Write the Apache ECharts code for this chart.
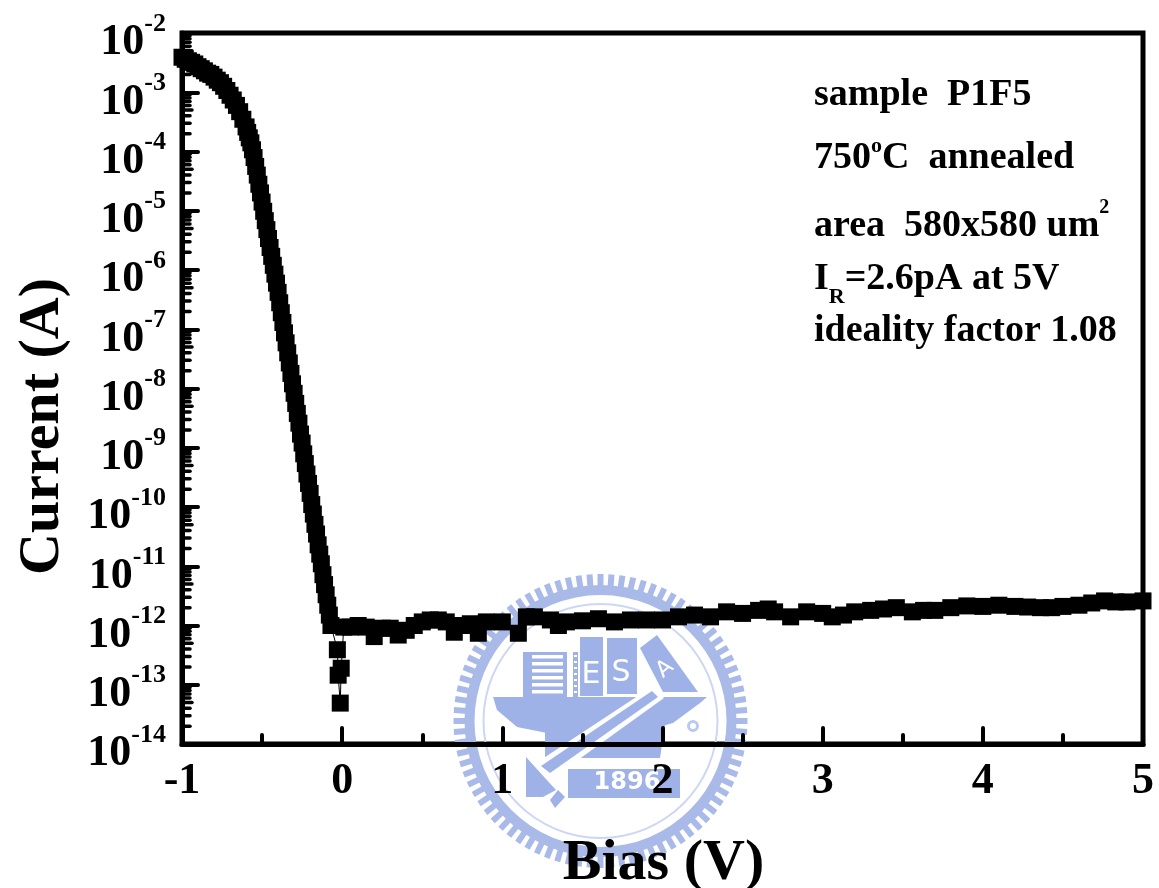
<!DOCTYPE html>
<html><head><meta charset="utf-8">
<style>html,body{margin:0;padding:0;background:#fff}#c{width:1159px;height:888px}</style>
<script src="https://cdn.jsdelivr.net/npm/echarts@6/dist/echarts.min.js"></script>
</head><body><div id="c"></div>
<script>
const biasForward = [-1,-0.98,-0.96,-0.94,-0.92,-0.9,-0.88,-0.86,-0.84,-0.82,-0.8,-0.78,-0.76,-0.74,-0.72,-0.7,-0.68,-0.66,-0.64,-0.62,-0.6,
 -0.59,-0.58,-0.57,-0.56,-0.55,-0.54,-0.53,-0.52,-0.51,-0.5,-0.49,-0.48,-0.47,-0.46,-0.45,-0.44,-0.43,-0.42,-0.41,-0.4,
 -0.39,-0.38,-0.37,-0.36,-0.35,-0.34,-0.33,-0.32,-0.31,-0.3,-0.29,-0.28,-0.27,-0.26,-0.25,-0.24,-0.23,-0.22,-0.21,-0.2,
 -0.19,-0.18,-0.17,-0.16,-0.15,-0.14,-0.13,-0.12,-0.11,-0.1,-0.09,-0.08,-0.07];
const currentForward = [3.9e-3,3.6e-3,3.4e-3,3.2e-3,3.0e-3,2.7e-3,2.5e-3,2.3e-3,2.1e-3,2.0e-3,1.8e-3,1.6e-3,1.45e-3,1.26e-3,1.07e-3,8.9e-4,7.4e-4,6.0e-4,4.7e-4,3.5e-4,2.6e-4,
 2.1e-4,1.7e-4,1.4e-4,1.07e-4,7.9e-5,5.6e-5,4.0e-5,2.8e-5,2.0e-5,1.4e-5,9.8e-6,6.8e-6,4.8e-6,3.4e-6,2.4e-6,1.7e-6,1.2e-6,8.5e-7,6.0e-7,4.2e-7,
 2.8e-7,1.9e-7,1.3e-7,8.7e-8,5.9e-8,4.0e-8,2.7e-8,1.8e-8,1.2e-8,8.3e-9,5.6e-9,3.8e-9,2.6e-9,1.7e-9,1.2e-9,7.9e-10,5.4e-10,3.6e-10,2.5e-10,1.7e-10,
 1.1e-10,7.6e-11,5.1e-11,3.5e-11,2.3e-11,1.6e-11,1.1e-11,7.2e-12,4.9e-12,3.3e-12,2.2e-12,1.5e-12,1.0e-12];
const biasDip = [-0.03,-0.025,-0.012,-0.006];
const currentDip = [3.9e-13,1.45e-13,4.9e-14,1.9e-13];
const biasFloor = [0.01,0.05,0.1,0.15,0.2,0.25,0.3,0.35,0.4,0.45,0.5,0.55,0.6,0.65,0.7,0.75,0.8,0.85,0.9,1,1.1,1.15,1.2,1.3,1.35,1.4,1.5,1.6,1.7,1.8,1.9,2,2.1,2.2,2.3,2.4,2.5,2.6,2.66,2.7,2.8,2.9,3,3.06,3.13,3.2,3.3,3.38,3.46,3.56,3.63,3.7,3.8,3.9,4,4.1,4.2,4.28,4.36,4.43,4.5,4.6,4.68,4.76,4.83,4.9,5];
const currentFloor = [9.4e-13,9.4e-13,1.0e-12,9.4e-13,6.5e-13,9.0e-13,9.0e-13,6.9e-13,8.3e-13,1.0e-12,1.15e-12,1.24e-12,1.24e-12,1.15e-12,7.7e-13,1.0e-12,1.07e-12,7.4e-13,1.15e-12,1.15e-12,7.4e-13,1.4e-12,1.4e-12,1.24e-12,1.0e-12,1.15e-12,1.2e-12,1.3e-12,1.15e-12,1.24e-12,1.24e-12,1.24e-12,1.4e-12,1.5e-12,1.4e-12,1.7e-12,1.6e-12,1.8e-12,1.9e-12,1.7e-12,1.4e-12,1.7e-12,1.6e-12,1.4e-12,1.5e-12,1.7e-12,1.8e-12,1.9e-12,2.0e-12,1.7e-12,1.8e-12,1.8e-12,2.0e-12,2.14e-12,2.1e-12,2.2e-12,2.1e-12,2.05e-12,2.0e-12,2.0e-12,2.1e-12,2.2e-12,2.4e-12,2.6e-12,2.5e-12,2.5e-12,2.6e-12];
const decades = [-2,-3,-4,-5,-6,-7,-8,-9,-10,-11,-12,-13,-14];
const minorMultipliers = [2,3,4,5,6,7,8,9];
const xTitle = 'Bias (V)', yTitle = 'Current (A)';

const FONT = '"Liberation Serif"';
const BLUE = '#9fb2e8';
const TOOTH = '#a9bae9';
const cur = [...biasForward.map((v,i)=>[v,currentForward[i]]),
             ...biasDip.map((v,i)=>[v,currentDip[i]]),
             ...biasFloor.map((v,i)=>[v,currentFloor[i]])];
const minorTicks = [];
decades.slice(1).forEach(d=>minorMultipliers.forEach(m=>minorTicks.push([-1, m*Math.pow(10,d), m===5?1:0])));

/* ---- watermark seal ---- */
function seal(){
  const cx=600.5, cy=721, el=[];
  for(let i=0;i<84;i++){
    const a=i/84*Math.PI*2;
    el.push({type:'rect',originX:cx,originY:cy,rotation:a,
      shape:{x:cx-3,y:cy-147,width:6,height:20},style:{fill:TOOTH}});
  }
  el.push({type:'ring',shape:{cx,cy,r:136,r0:126},style:{fill:TOOTH}});
  el.push({type:'ring',shape:{cx,cy,r:118,r0:116},style:{fill:'#cdd7f3'}});
  // hull
  el.push({type:'polygon',shape:{points:[[493,697],[707,697],[700,703],[673,723],[640,732],[583,737],[547,733],[517,727],[497,710]]},style:{fill:BLUE}});
  // stripes block
  el.push({type:'rect',shape:{x:523,y:652,width:44,height:45},style:{fill:BLUE}});
  for(let k=0;k<6;k++) el.push({type:'rect',shape:{x:532,y:655+k*7,width:31,height:3.5},style:{fill:'#fff'}});
  el.push({type:'rect',shape:{x:573,y:652,width:5,height:45},style:{fill:BLUE}});
  for(let k=0;k<7;k++) el.push({type:'rect',shape:{x:574,y:655+k*6,width:3,height:2},style:{fill:'#fff'}});
  // E, S, A blocks
  el.push({type:'rect',shape:{x:580,y:637,width:23,height:59},style:{fill:BLUE}});
  el.push({type:'rect',shape:{x:607,y:638,width:30,height:56},style:{fill:BLUE}});
  el.push({type:'polygon',shape:{points:[[640,648],[657,635],[698,692],[663,692]]},style:{fill:BLUE}});
  el.push({type:'text',x:591,y:675,style:{text:'E',fontFamily:'"DejaVu Sans"',fontSize:30,fill:'#fff',align:'center',verticalAlign:'middle'}});
  el.push({type:'text',x:621,y:673,style:{text:'S',fontFamily:'"DejaVu Sans"',fontSize:30,fill:'#fff',align:'center',verticalAlign:'middle'}});
  el.push({type:'text',x:665,y:669,rotation:0.7,style:{text:'A',fontFamily:'"DejaVu Sans"',fontSize:22,fill:'#fff',align:'center',verticalAlign:'middle'}});
  // lower wedges
  el.push({type:'polygon',shape:{points:[[545,730],[600,735],[545,770]]},style:{fill:BLUE}});
  el.push({type:'polygon',shape:{points:[[580,758],[640,715],[665,725],[660,758]]},style:{fill:BLUE}});
  // pencil with white outline
  el.push({type:'polygon',shape:{points:[[653,686],[664,698],[550,780],[530,767]]},style:{fill:'#fff'}});
  el.push({type:'polygon',shape:{points:[[652,691],[658,697],[550,773],[541,766]]},style:{fill:BLUE}});
  // 1896 plate
  el.push({type:'rect',shape:{x:568,y:769,width:112,height:29},style:{fill:BLUE}});
  el.push({type:'text',x:627,y:783,style:{text:'1896',fontFamily:'"DejaVu Sans"',fontWeight:'bold',fontSize:24,fill:'#fff',align:'center',verticalAlign:'middle'}});
  el.push({type:'polygon',shape:{points:[[526,757],[545,778],[556,790],[543,797],[526,797]]},style:{fill:BLUE}});
  el.push({type:'polygon',shape:{points:[[550,800],[558,790],[565,797],[555,808]]},style:{fill:BLUE}});
  el.push({type:'ring',shape:{cx:693,cy:726,r:6,r0:3},style:{fill:'#bcc9ee'}});
  return el;
}

/* ---- annotation ---- */
const base = {fontFamily:FONT,fontWeight:'bold',fill:'#000'};
const annRich = {
  b:{...base,fontSize:38},
  o:{...base,fontSize:22,padding:[0,0,24,0]},
  two:{...base,fontSize:20,padding:[0,0,36,0]},
  sub:{...base,fontSize:22,padding:[36,0,0,0]}
};
const annotation = [
  ['{b|sample  P1F5}',95],
  ['{b|750}{o|o}{b|C  annealed}',158],
  ['{b|area  580x580 um}{two|2}',226],
  ['{b|I}{sub|R}{b|=2.6pA at 5V}',279],
  ['{b|ideality factor 1.08}',331]
];
const annEls = annotation.map(([t,y])=>({type:'text',x:814,y:y,silent:true,
  style:{text:t,rich:annRich,fontFamily:FONT,fontWeight:'bold',fontSize:38,fill:'#000',verticalAlign:'middle'}}));

const chart = echarts.init(document.getElementById('c'),null,{renderer:'canvas'});
chart.setOption({
  animation:false,
  backgroundColor:'#fff',
  graphic:{elements:[{type:'group',silent:true,children:seal()},...annEls]},
  grid:{left:182,right:16,top:33,bottom:144,outerBoundsMode:'none',containLabel:false,show:true,borderWidth:5,borderColor:'#000',backgroundColor:'transparent'},
  xAxis:{type:'value',min:-1,max:5,interval:1,
    name:xTitle,nameLocation:'middle',nameGap:91,
    nameTextStyle:{fontFamily:FONT,fontWeight:'bold',fontSize:58,color:'#000',padding:[0,0,0,2]},
    axisLine:{onZero:false,lineStyle:{color:'#000',width:5}},
    axisTick:{inside:true,length:16,lineStyle:{color:'#000',width:4,cap:'round'}},
    minorTick:{show:true,splitNumber:2,length:9,lineStyle:{color:'#000',width:4,cap:'round'}},
    splitLine:{show:false},minorSplitLine:{show:false},
    axisLabel:{fontFamily:FONT,fontWeight:'bold',fontSize:44,color:'#000',margin:16,showMinLabel:true,showMaxLabel:true}
  },
  yAxis:{type:'log',logBase:10,min:1e-14,max:1e-2,interval:1,
    name:yTitle,nameLocation:'middle',nameGap:110,nameRotate:90,
    nameTextStyle:{fontFamily:FONT,fontWeight:'bold',fontSize:58,color:'#000',padding:[0,76,0,0]},
    axisLine:{onZero:false,lineStyle:{color:'#000',width:5}},
    axisTick:{inside:true,length:16,lineStyle:{color:'#000',width:4,cap:'round'}},
    splitLine:{show:false},
    axisLabel:{margin:16,interval:0,hideOverlap:false,
      formatter:v=>{const e=Math.round(Math.log10(v));return '{b|10}{s|'+e+'}';},
      rich:{
        b:{fontFamily:FONT,fontWeight:'bold',fontSize:44,color:'#000',padding:[20,0,0,0]},
        s:{fontFamily:FONT,fontWeight:'bold',fontSize:26,color:'#000',padding:[0,0,18,0]}
      }}
  },
  series:[
    {type:'custom',coordinateSystem:'cartesian2d',clip:false,silent:true,z:3,
     data:minorTicks,
     renderItem:(p,api)=>{
       const c=api.coord([api.value(0),api.value(1)]);
       const len=api.value(2)?10:8;
       return {type:'line',shape:{x1:c[0],y1:c[1],x2:c[0]+len,y2:c[1]},
         style:{stroke:'#000',lineWidth:3.5,lineCap:'round'}};
     }},
    {type:'line',data:cur,clip:false,z:5,
     symbol:'rect',symbolSize:17,showSymbol:true,showAllSymbol:true,
     itemStyle:{color:'#000'},lineStyle:{color:'#000',width:1},silent:true,smooth:false}
  ]
});
</script></body></html>
